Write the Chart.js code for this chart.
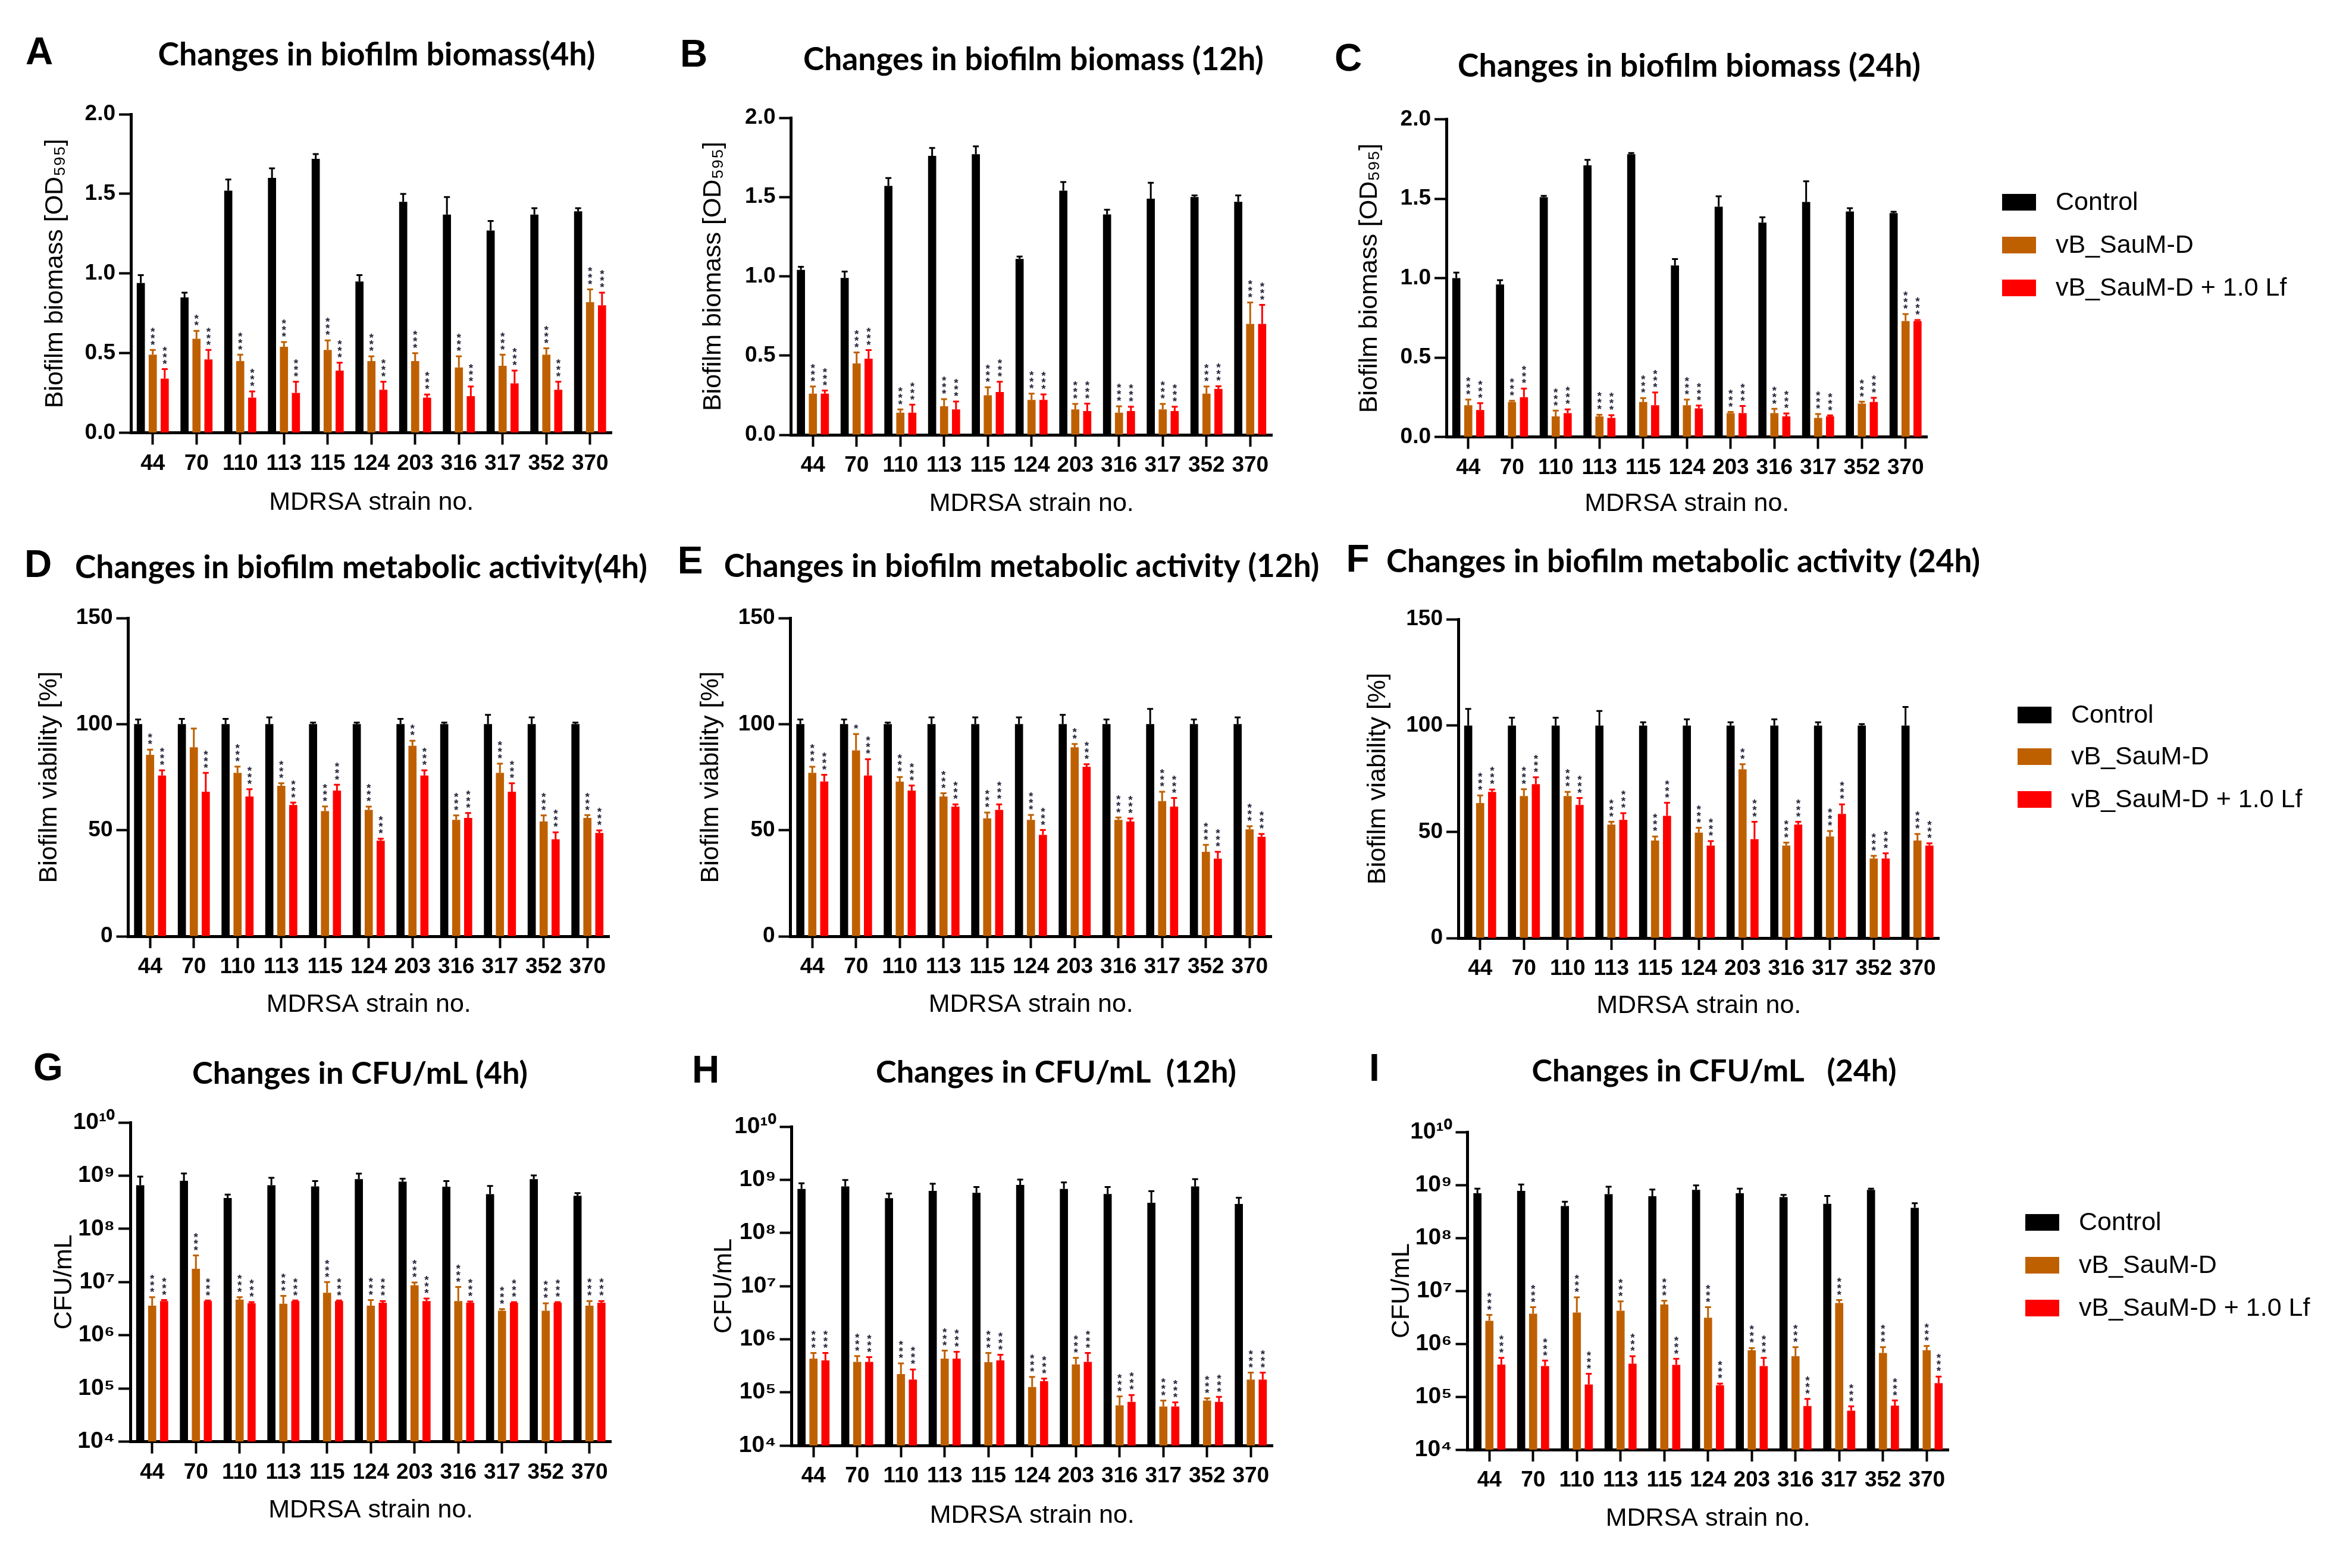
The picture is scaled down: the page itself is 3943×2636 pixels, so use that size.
<!DOCTYPE html>
<html><head><meta charset="utf-8">
<script src="https://cdn.jsdelivr.net/npm/chart.js@4.4.0/dist/chart.umd.min.js"></script>
<style>
html,body{margin:0;padding:0;background:#fff;overflow:hidden;width:3943px;height:2636px;}
#wrap{position:relative;width:3943px;height:2636px;background:#fff;}
canvas{position:absolute;}
</style></head><body><div id="wrap"></div>
<script>
// ---------------- DATA ----------------
const strains = ['44','70','110','113','115','124','203','316','317','352','370'];
const seriesNames = ['Control','vB_SauM-D','vB_SauM-D + 1.0 Lf'];

// A: biofilm biomass 4h (OD595)
const bio4_ctrl    = [0.94, 0.85, 1.52, 1.60, 1.72, 0.95, 1.45, 1.37, 1.27, 1.37, 1.39];
const bio4_ctrl_sd = [0.05, 0.03, 0.07, 0.06, 0.03, 0.04, 0.05, 0.11, 0.06, 0.04, 0.02];
const bio4_vb      = [0.49, 0.59, 0.45, 0.54, 0.52, 0.45, 0.45, 0.41, 0.42, 0.49, 0.82];
const bio4_vb_sd   = [0.03, 0.05, 0.04, 0.03, 0.06, 0.03, 0.05, 0.07, 0.07, 0.04, 0.08];
const bio4_lf      = [0.34, 0.46, 0.22, 0.25, 0.39, 0.27, 0.22, 0.23, 0.31, 0.27, 0.80];
const bio4_lf_sd   = [0.06, 0.06, 0.04, 0.07, 0.05, 0.05, 0.02, 0.06, 0.08, 0.05, 0.08];

// B: biofilm biomass 12h
const bio12_ctrl    = [1.04, 0.99, 1.57, 1.76, 1.77, 1.11, 1.54, 1.39, 1.49, 1.50, 1.47];
const bio12_ctrl_sd = [0.02, 0.04, 0.05, 0.05, 0.05, 0.015, 0.055, 0.03, 0.10, 0.01, 0.04];
const bio12_vb      = [0.26, 0.45, 0.14, 0.18, 0.25, 0.22, 0.16, 0.14, 0.16, 0.26, 0.70];
const bio12_vb_sd   = [0.045, 0.07, 0.02, 0.045, 0.05, 0.04, 0.035, 0.04, 0.035, 0.045, 0.135];
const bio12_lf      = [0.26, 0.48, 0.14, 0.16, 0.27, 0.22, 0.15, 0.15, 0.15, 0.29, 0.70];
const bio12_lf_sd   = [0.02, 0.055, 0.05, 0.05, 0.065, 0.035, 0.047, 0.027, 0.027, 0.017, 0.12];

// C: biofilm biomass 24h
const bio24_ctrl    = [1.00, 0.96, 1.51, 1.71, 1.78, 1.08, 1.45, 1.35, 1.48, 1.42, 1.41];
const bio24_ctrl_sd = [0.035, 0.027, 0.008, 0.035, 0.008, 0.04, 0.065, 0.033, 0.13, 0.02, 0.008];
const bio24_vb      = [0.20, 0.22, 0.13, 0.13, 0.22, 0.20, 0.15, 0.15, 0.12, 0.21, 0.73];
const bio24_vb_sd   = [0.035, 0.008, 0.036, 0.01, 0.025, 0.035, 0.008, 0.027, 0.025, 0.012, 0.044];
const bio24_lf      = [0.17, 0.25, 0.15, 0.12, 0.20, 0.18, 0.15, 0.13, 0.13, 0.22, 0.73];
const bio24_lf_sd   = [0.043, 0.055, 0.024, 0.017, 0.08, 0.018, 0.045, 0.018, 0.006, 0.027, 0.006];

// D: biofilm viability 4h (%)
const via4_ctrl    = [100, 100, 100, 100, 100, 100, 100, 100, 100, 100, 100];
const via4_ctrl_sd = [2.2, 2.5, 2.5, 3.2, 0.7, 0.7, 2.5, 0.7, 4.4, 3.2, 0.7];
const via4_vb      = [85.5, 89.1, 77.0, 70.9, 59.0, 59.6, 89.8, 54.9, 77.0, 54.1, 55.8];
const via4_vb_sd   = [2.5, 8.8, 3.0, 1.2, 2.2, 1.5, 2.4, 2.1, 4.4, 2.9, 1.3];
const via4_lf      = [75.8, 68.1, 65.9, 61.9, 68.7, 45.1, 75.8, 55.8, 68.1, 45.7, 48.7];
const via4_lf_sd   = [2.4, 8.9, 3.4, 1.1, 2.7, 0.9, 2.4, 2.3, 4.0, 3.3, 1.2];

// E: biofilm viability 12h
const via12_ctrl    = [100, 100, 100, 100, 100, 100, 100, 100, 100, 100, 100];
const via12_ctrl_sd = [2.2, 2.2, 0.7, 3.2, 3.2, 3.2, 4.4, 2.2, 7.2, 2.2, 3.2];
const via12_vb      = [77.0, 87.6, 72.9, 65.9, 55.6, 54.9, 89.1, 54.9, 63.7, 39.8, 50.4];
const via12_vb_sd   = [2.9, 7.7, 2.2, 1.5, 2.7, 2.3, 1.5, 1.1, 4.4, 3.3, 1.5];
const via12_lf      = [73.0, 75.8, 68.7, 61.1, 59.6, 47.8, 79.9, 54.1, 61.1, 36.6, 46.9];
const via12_lf_sd   = [3.1, 7.7, 2.4, 1.1, 2.6, 2.3, 1.2, 1.4, 4.1, 3.2, 1.3];

// F: biofilm viability 24h
const via24_ctrl    = [100, 100, 100, 100, 100, 100, 100, 100, 100, 100, 100];
const via24_ctrl_sd = [7.8, 3.7, 3.7, 6.8, 1.5, 2.9, 1.5, 2.9, 1.5, 0.7, 8.7];
const via24_vb      = [63.5, 66.8, 66.8, 53.4, 45.9, 49.6, 79.4, 43.5, 47.8, 37.4, 45.9];
const via24_vb_sd   = [3.6, 3.2, 2.0, 1.3, 1.9, 2.3, 2.4, 1.4, 2.6, 1.3, 3.1];
const via24_lf      = [68.8, 72.4, 62.6, 55.6, 57.5, 43.5, 46.5, 53.4, 58.4, 37.4, 43.5];
const via24_lf_sd   = [1.1, 3.2, 3.3, 3.2, 6.2, 2.1, 8.2, 1.3, 4.5, 2.5, 1.1];

// G: CFU/mL 4h
const cfu4_ctrl    = [6.6e8, 8.0e8, 3.8e8, 6.6e8, 6.3e8, 8.6e8, 7.7e8, 6.2e8, 4.5e8, 8.6e8, 4.2e8];
const cfu4_ctrl_sd = [3.0e8, 3.0e8, 0.6e8, 2.5e8, 1.6e8, 2.3e8, 1.1e8, 1.7e8, 1.9e8, 1.5e8, 0.5e8];
const cfu4_vb      = [3.6e6, 1.77e7, 4.7e6, 3.9e6, 6.3e6, 3.6e6, 8.7e6, 4.4e6, 2.9e6, 2.9e6, 3.6e6];
const cfu4_vb_sd   = [1.6e6, 1.4e7, 0.5e6, 1.6e6, 3.7e6, 1.0e6, 1.1e6, 3.7e6, 0.2e6, 1.1e6, 0.8e6];
const cfu4_lf      = [4.4e6, 4.4e6, 4.0e6, 4.4e6, 4.4e6, 4.1e6, 4.4e6, 4.1e6, 4.1e6, 4.1e6, 4.1e6];
const cfu4_lf_sd   = [0.2e6, 0.1e6, 0.2e6, 0.1e6, 0.1e6, 0.3e6, 0.5e6, 0.2e6, 0.1e6, 0.1e6, 0.3e6];

// H: CFU/mL 12h
const cfu12_ctrl    = [6.7e8, 7.5e8, 4.5e8, 6.2e8, 5.7e8, 8.0e8, 6.7e8, 5.4e8, 3.7e8, 7.5e8, 3.5e8];
const cfu12_ctrl_sd = [1.9e8, 2.4e8, 1.0e8, 2.2e8, 1.6e8, 2.1e8, 2.2e8, 1.9e8, 2.4e8, 2.8e8, 1.1e8];
const cfu12_vb      = [4.3e5, 3.75e5, 2.2e5, 4.3e5, 3.7e5, 1.26e5, 3.35e5, 5.7e4, 5.4e4, 7.0e4, 1.74e5];
const cfu12_vb_sd   = [1.2e5, 1.05e5, 1.3e5, 1.8e5, 1.8e5, 0.69e5, 1.1e5, 2.7e4, 1.6e4, 0.7e4, 0.61e5];
const cfu12_lf      = [4.0e5, 3.75e5, 1.74e5, 4.3e5, 4.0e5, 1.62e5, 3.75e5, 6.6e4, 5.4e4, 6.6e4, 1.74e5];
const cfu12_lf_sd   = [1.5e5, 0.85e5, 0.96e5, 1.5e5, 1.1e5, 0.2e5, 1.75e5, 2.3e4, 1.1e4, 1.6e4, 0.61e5];

// I: CFU/mL 24h
const cfu24_ctrl    = [6.95e8, 7.7e8, 4.0e8, 6.7e8, 6.1e8, 8.1e8, 6.95e8, 5.9e8, 4.4e8, 8.1e8, 3.7e8];
const cfu24_ctrl_sd = [1.55e8, 2.5e8, 0.8e8, 2.55e8, 2.1e8, 1.7e8, 1.55e8, 0.6e8, 1.8e8, 0.4e8, 0.8e8];
const cfu24_vb      = [2.7e6, 3.7e6, 3.9e6, 4.2e6, 5.5e6, 3.1e6, 7.5e5, 5.8e5, 5.9e6, 6.7e5, 7.5e5];
const cfu24_vb_sd   = [0.8e6, 1.2e6, 3.6e6, 2.1e6, 1.0e6, 1.8e6, 0.8e5, 2.8e5, 0.8e6, 1.9e5, 1.6e5];
const cfu24_lf      = [4.05e5, 3.8e5, 1.7e5, 4.2e5, 4.0e5, 1.65e5, 3.8e5, 6.65e4, 5.45e4, 6.8e4, 1.8e5];
const cfu24_lf_sd   = [1.35e5, 1.0e5, 1.0e5, 1.6e5, 1.2e5, 0.12e5, 1.6e5, 2.45e4, 1.1e4, 1.7e4, 0.6e5];

// significance stars (count of asterisks above each treated bar)
const stars3    = [3, 3, 3, 3, 3, 3, 3, 3, 3, 3, 3];
const starsA_vb = [3, 2, 3, 3, 3, 3, 3, 3, 3, 3, 3];
const starsD_vb = [2, 0, 3, 3, 3, 3, 2, 3, 3, 3, 3];
const starsE_vb = [3, 1, 3, 3, 3, 3, 2, 3, 3, 3, 3];
const starsF_vb = [3, 3, 3, 3, 3, 3, 2, 3, 3, 3, 3];

// y tick values
const bioTicks = [0, 0.5, 1.0, 1.5, 2.0];
const viaTicks = [0, 50, 100, 150];
const cfuTicks = [1e4, 1e5, 1e6, 1e7, 1e8, 1e9, 1e10];

// ---------------- STYLE / LAYOUT ----------------
const COLORS = ['#000000', '#BF6000', '#FF0000'];
const SANS = '"Liberation Sans", Arial, sans-serif';
const TITLE_FONT = 'Lato, "Open Sans", sans-serif';
const CAT = 73.5;
const PL = 10;
const SUP = {'0':'⁰','1':'¹','2':'²','3':'³','4':'⁴','5':'⁵','6':'⁶','7':'⁷','8':'⁸','9':'⁹','-':'⁻'};

const GEO = {
  A:{x0:0,   y0:0,   w:1110, h:880, left:220,    top:192,  bottom:727.5, yTitleX:93,   xTitleY:845,  titleX:633,  titleY:93,   titleW:735,  letterX:66,   letterY:90},
  B:{x0:1110,y0:0,   w:1110, h:880, left:1329.5, top:198,  bottom:731,   yTitleX:1199, xTitleY:847,  titleX:1737, titleY:101,  titleW:774,  letterX:1166, letterY:94},
  C:{x0:2220,y0:0,   w:1723, h:880, left:2431,   top:200.6,bottom:734.6, yTitleX:2302, xTitleY:847,  titleX:2839, titleY:112,  titleW:778,  letterX:2266, letterY:101, legendX:3365, legendY:[340,412,484]},
  D:{x0:0,   y0:880, w:1110, h:840, left:215.5,  top:1039, bottom:1574,  yTitleX:83,   xTitleY:1689, titleX:607,  titleY:955,  titleW:962,  letterX:64,   letterY:952},
  E:{x0:1110,y0:880, w:1110, h:840, left:1328.5, top:1039, bottom:1574,  yTitleX:1195, xTitleY:1689, titleX:1717, titleY:953,  titleW:1001, letterX:1160, letterY:946},
  F:{x0:2220,y0:880, w:1723, h:840, left:2451,   top:1041, bottom:1577,  yTitleX:2316, xTitleY:1691, titleX:2829, titleY:945,  titleW:998,  letterX:2282, letterY:943, legendX:3391, legendY:[1202,1272,1344]},
  G:{x0:0,   y0:1720,w:1110, h:916, left:219,    top:1887, bottom:2423.6,yTitleX:108,  xTitleY:2539, titleX:605,  titleY:1805, titleW:564,  letterX:81,   letterY:1798},
  H:{x0:1110,y0:1720,w:1110, h:916, left:1330.5, top:1894, bottom:2430,  yTitleX:1217, xTitleY:2548, titleX:1775, titleY:1803, titleW:606,  letterX:1186, letterY:1802},
  I:{x0:2220,y0:1720,w:1723, h:916, left:2466.5, top:1903, bottom:2437,  yTitleX:2356, xTitleY:2553, titleX:2881, titleY:1801, titleW:613,  letterX:2310, letterY:1799, legendX:3404, legendY:[2055,2127,2199]},
};

const PANELS = [
  {key:'A', title:'Changes in biofilm biomass(4h)', kind:'bio', yTitle:'Biofilm biomass [OD₅₉₅]',
   vals:[bio4_ctrl, bio4_vb, bio4_lf], sds:[bio4_ctrl_sd, bio4_vb_sd, bio4_lf_sd], stars:[null, starsA_vb, stars3]},
  {key:'B', title:'Changes in biofilm biomass (12h)', kind:'bio', yTitle:'Biofilm biomass [OD₅₉₅]',
   vals:[bio12_ctrl, bio12_vb, bio12_lf], sds:[bio12_ctrl_sd, bio12_vb_sd, bio12_lf_sd], stars:[null, stars3, stars3]},
  {key:'C', title:'Changes in biofilm biomass (24h)', kind:'bio', yTitle:'Biofilm biomass [OD₅₉₅]',
   vals:[bio24_ctrl, bio24_vb, bio24_lf], sds:[bio24_ctrl_sd, bio24_vb_sd, bio24_lf_sd], stars:[null, stars3, stars3]},
  {key:'D', title:'Changes in biofilm metabolic activity(4h)', kind:'via', yTitle:'Biofilm viability [%]',
   vals:[via4_ctrl, via4_vb, via4_lf], sds:[via4_ctrl_sd, via4_vb_sd, via4_lf_sd], stars:[null, starsD_vb, stars3]},
  {key:'E', title:'Changes in biofilm metabolic activity (12h)', kind:'via', yTitle:'Biofilm viability [%]',
   vals:[via12_ctrl, via12_vb, via12_lf], sds:[via12_ctrl_sd, via12_vb_sd, via12_lf_sd], stars:[null, starsE_vb, stars3]},
  {key:'F', title:'Changes in biofilm metabolic activity (24h)', kind:'via', yTitle:'Biofilm viability [%]',
   vals:[via24_ctrl, via24_vb, via24_lf], sds:[via24_ctrl_sd, via24_vb_sd, via24_lf_sd], stars:[null, starsF_vb, stars3]},
  {key:'G', title:'Changes in CFU/mL (4h)', kind:'cfu', yTitle:'CFU/mL',
   vals:[cfu4_ctrl, cfu4_vb, cfu4_lf], sds:[cfu4_ctrl_sd, cfu4_vb_sd, cfu4_lf_sd], stars:[null, stars3, stars3]},
  {key:'H', title:'Changes in CFU/mL  (12h)', kind:'cfu', yTitle:'CFU/mL',
   vals:[cfu12_ctrl, cfu12_vb, cfu12_lf], sds:[cfu12_ctrl_sd, cfu12_vb_sd, cfu12_lf_sd], stars:[null, stars3, stars3]},
  {key:'I', title:'Changes in CFU/mL   (24h)', kind:'cfu', yTitle:'CFU/mL',
   vals:[cfu24_ctrl, cfu24_vb, cfu24_lf], sds:[cfu24_ctrl_sd, cfu24_vb_sd, cfu24_lf_sd], stars:[null, stars3, stars3]},
];

// ---------------- PLUGINS ----------------
const errorBarPlugin = {
  id: 'errorBars',
  afterDatasetsDraw(chart) {
    const ctx = chart.ctx, ys = chart.scales.y;
    chart.data.datasets.forEach((ds, i) => {
      const meta = chart.getDatasetMeta(i);
      meta.data.forEach((bar, j) => {
        const top = ys.getPixelForValue(ds.data[j] + ds.sd[j]);
        ctx.save();
        ctx.strokeStyle = ds.backgroundColor;
        ctx.lineWidth = 3;
        ctx.beginPath();
        ctx.moveTo(bar.x, bar.y); ctx.lineTo(bar.x, top);
        ctx.moveTo(bar.x - 5, top); ctx.lineTo(bar.x + 5, top);
        ctx.stroke();
        const n = ds.stars ? ds.stars[j] : 0;
        ctx.fillStyle = '#26263a';
        ctx.font = 'bold 19px ' + SANS;
        ctx.textAlign = 'center';
        ctx.textBaseline = 'middle';
        for (let k = 0; k < n; k++) ctx.fillText('*', bar.x, top - 8 - k * 11);
        ctx.restore();
      });
    });
  }
};

const panelTextPlugin = {
  id: 'panelText',
  afterDraw(chart, args, o) {
    const ctx = chart.ctx;
    ctx.save();
    ctx.fillStyle = '#000';
    ctx.textBaseline = 'middle';
    ctx.textAlign = 'center';
    ctx.font = 'bold 64px ' + SANS;
    ctx.fillText(o.letter, o.letterX, o.letterY);
    ctx.font = 'bold 100px ' + TITLE_FONT;
    const w = ctx.measureText(o.title).width;
    const size = 100 * o.titleW / w;
    ctx.font = 'bold ' + size.toFixed(2) + 'px ' + TITLE_FONT;
    ctx.fillText(o.title, o.titleX, o.titleY);
    if (o.legend) {
      ctx.textAlign = 'left';
      ctx.font = '43px ' + SANS;
      chart.data.datasets.forEach((ds, i) => {
        const y = o.legendY[i];
        ctx.fillStyle = ds.backgroundColor;
        ctx.fillRect(o.legendX, y - 14, 57, 28);
        ctx.fillStyle = '#000';
        ctx.fillText(ds.label, o.legendX + 90, y + 1);
      });
    }
    ctx.restore();
  }
};

// ---------------- BUILD ----------------
const wrap = document.getElementById('wrap');

function supExp(v) {
  const e = String(Math.round(Math.log10(v)));
  return '10' + e.split('').map(c => SUP[c]).join('');
}

function makePanel(p) {
  const g = GEO[p.key];
  const cv = document.createElement('canvas');
  cv.width = g.w; cv.height = g.h;
  cv.style.left = g.x0 + 'px'; cv.style.top = g.y0 + 'px';
  cv.style.width = g.w + 'px'; cv.style.height = g.h + 'px';
  wrap.appendChild(cv);

  const right = g.left + 11 * CAT;
  const tickFont = {family: SANS, size: 37, weight: 'bold'};
  const titleFont = {family: SANS, size: 43, weight: 'normal'};
  const lh = 43 * 1.2;

  let yScale;
  const yCommon = {
    grid: {display: true, drawOnChartArea: false, drawTicks: true, tickLength: 20, tickWidth: 4, tickColor: '#000'},
    border: {display: true, color: '#000', width: 5},
    title: {display: true, text: p.yTitle, font: titleFont, color: '#000',
            padding: {top: (g.yTitleX - g.x0) - PL - lh / 2, bottom: 0}},
    afterFit: s => { s.width = g.left - g.x0 - PL; }
  };
  if (p.kind === 'cfu') {
    yScale = Object.assign({
      type: 'logarithmic', min: cfuTicks[0], max: cfuTicks[cfuTicks.length - 1],
      afterBuildTicks: s => { s.ticks = cfuTicks.map(v => ({value: v, major: true})); },
      ticks: {font: {family: SANS, size: 39, weight: 'bold'}, color: '#000', padding: 6, autoSkip: false, callback: v => supExp(v)}
    }, yCommon);
  } else {
    const tv = p.kind === 'bio' ? bioTicks : viaTicks;
    yScale = Object.assign({
      type: 'linear', min: tv[0], max: tv[tv.length - 1],
      afterBuildTicks: s => { s.ticks = tv.map(v => ({value: v})); },
      ticks: {font: tickFont, color: '#000', padding: 6, autoSkip: false,
              callback: v => p.kind === 'bio' ? Number(v).toFixed(1) : String(v)}
    }, yCommon);
  }

  const datasets = seriesNames.map((name, i) => ({
    label: name,
    data: p.vals[i],
    sd: p.sds[i],
    stars: p.stars[i],
    backgroundColor: COLORS[i],
    borderWidth: 0,
    categoryPercentage: 0.82,
    barPercentage: 0.68
  }));

  new Chart(cv, {
    type: 'bar',
    data: {labels: strains, datasets},
    options: {
      responsive: false,
      animation: false,
      devicePixelRatio: 1,
      layout: {padding: {left: PL, top: g.top - g.y0, right: g.x0 + g.w - right, bottom: 0}},
      plugins: {
        legend: {display: false},
        tooltip: {enabled: false},
        title: {display: false},
        panelText: {
          letter: p.key, letterX: g.letterX - g.x0, letterY: g.letterY - g.y0,
          title: p.title, titleX: g.titleX - g.x0, titleY: g.titleY - g.y0, titleW: g.titleW,
          legend: g.legendX !== undefined,
          legendX: g.legendX !== undefined ? g.legendX - g.x0 : 0,
          legendY: g.legendY ? g.legendY.map(v => v - g.y0) : []
        }
      },
      scales: {
        x: {
          type: 'category', offset: true,
          grid: {display: true, drawOnChartArea: false, drawTicks: true, tickLength: 20, tickWidth: 4, tickColor: '#000', offset: false},
          border: {display: true, color: '#000', width: 5},
          ticks: {font: tickFont, color: '#000', padding: 10, autoSkip: false, maxRotation: 0, minRotation: 0},
          title: {display: true, text: 'MDRSA strain no.', font: titleFont, color: '#000',
                  padding: {top: 0, bottom: g.h - (g.xTitleY - g.y0) - lh / 2}},
          afterFit: s => { s.height = g.y0 + g.h - g.bottom; }
        },
        y: yScale
      }
    },
    plugins: [errorBarPlugin, panelTextPlugin]
  });
}

PANELS.forEach(makePanel);
</script>
</body></html>
